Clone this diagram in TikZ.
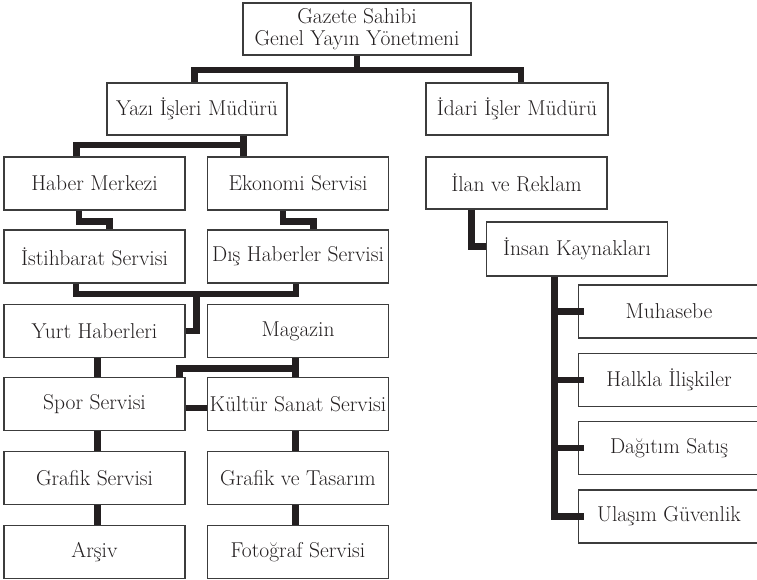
\documentclass[tikz,border=0pt]{standalone}
\usepackage{tikz}
\usetikzlibrary{positioning, calc}
\definecolor{kenar}{HTML}{3C3C3C}
\definecolor{cizgi}{HTML}{231F20}
\tikzset{box/.style = {rectangle, draw=kenar, line width=1.2pt, minimum width=181pt, minimum height=53pt, inner sep=0pt, text=cizgi, font=\fontsize{21.5}{21.5}\selectfont}}
\tikzset{link/.style = {draw=cizgi, line width=6.5pt}}

\begin{document}
\begin{tikzpicture}[x=1pt, y=-1pt]
        \path [use as bounding box, clip] (0,0) rectangle (757,580);

        \node [box, minimum width=228pt, minimum height=52pt, align=center] (1) at (357,29) {Gazete Sahibi\\Genel Yayın Yönetmeni};
        \node [box, minimum width=180pt, minimum height=52pt] (2) at (197,109) {Yazı İşleri Müdürü};
        \node [box, minimum width=182pt, minimum height=52pt] (3) at (517,109) {İdari İşler Müdürü};

        \node [box] (4) at (94.5,183.5) {Haber Merkezi};
        \node [box] (5) at (298,183.5) {Ekonomi Servisi};
        \node [box] (6) at (94.5,256.5) {İstihbarat Servisi};
        \node [box] (7) at (298,256.5) {Dış Haberler Servisi};
        \node [box] (8) at (94.5,331) {Yurt Haberleri};
        \node [box] (9) at (298,331) {Magazin};
        \node [box] (10) at (94.5,404) {Spor Servisi};
        \node [box] (11) at (298,404) {Kültür Sanat Servisi};
        \node [box] (12) at (94.5,478) {Grafik Servisi};
        \node [box] (13) at (298,478) {Grafik ve Tasarım};
        \node [box] (14) at (94.5,552) {Arşiv};
        \node [box] (15) at (298,552) {Fotoğraf Servisi};

        \node [box, minimum height=52pt] (16) at (516.5,183) {İlan ve Reklam};
        \node [box, minimum height=54pt] (17) at (577,249) {İnsan Kaynakları};
        \node [box] (18) at (669,311.5) {Muhasebe};
        \node [box] (19) at (669,380) {Halkla İlişkiler};
        \node [box] (20) at (669,448) {Dağıtım Satış};
        \node [box] (21) at (669,516.5) {Ulaşım Güvenlik};

        \draw [link] (1.south) -- ++(0,14.5) coordinate (t1) -| ([xshift=-2.5]2.north);
        \draw [link] (t1) -| ([xshift=4]3.north);

        \draw [link] ([xshift=46.5]2.south) -- ([xshift=46.5]2.south |- 5.north);
        \draw [link] ([xshift=46.5]2.south) ++(0,9.5) -| ([xshift=-18]4.north);

        \draw [link] ([xshift=-15.5]4.south) -- ++(0,11) -| ([xshift=15]6.north);
        \draw [link] ([xshift=-15]5.south) -- ++(0,11) -| ([xshift=15.5]7.north);

        \draw [link] ([xshift=-18.5]6.south) -- ++(0,10.5) -| ([xshift=-2]7.south);
        \coordinate (b1) at ($(6.south)+(102,10.5)$);
        \draw [link] (b1) |- (8.east);

        \draw [link] ([xshift=3]8.south) -- ([xshift=3]10.north);
        \draw [link] ([xshift=-2.5]9.south) -- ([xshift=-2.5]11.north);
        \draw [link] ([xshift=-2.5]9.south) ++(0,10.5) -| ([xshift=85]10.north);
        \draw [link] ([yshift=-4]10.east) -- ([yshift=-4]11.west);

        \draw [link] ([xshift=3]10.south) -- ([xshift=3]12.north);
        \draw [link] ([xshift=3]12.south) -- ([xshift=3]14.north);
        \draw [link] ([xshift=-2.5]11.south) -- ([xshift=-2.5]13.north);
        \draw [link] ([xshift=-2.5]13.south) -- ([xshift=-2.5]15.north);

        \draw [link] ([xshift=-45]16.south) |- ([yshift=2.5]17.west);
        \draw [link] ([xshift=-22.5]17.south) |- ([xshift=6]21.west);
        \foreach \k in {18,19,20}
            \draw [link] ([xshift=-22.5]17.south |- \k.west) -- ([xshift=6]\k.west);
    \end{tikzpicture}
\end{document}
